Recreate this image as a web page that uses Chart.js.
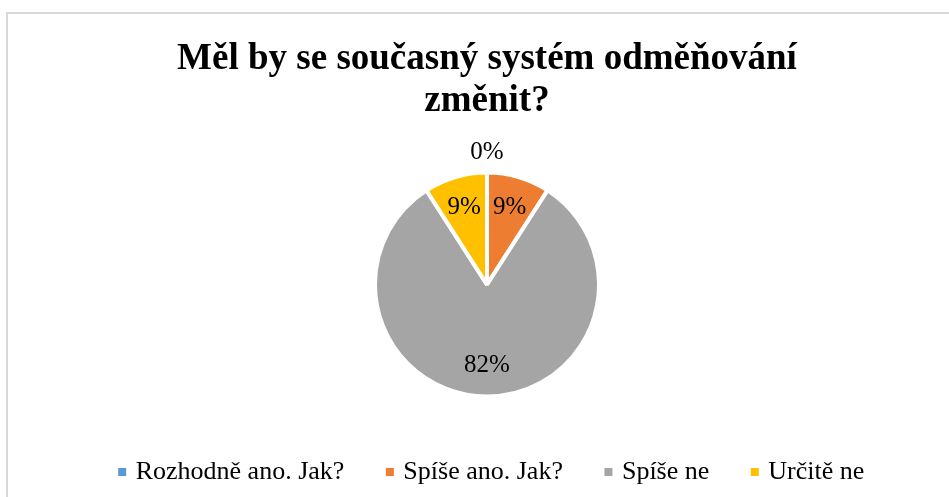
<!DOCTYPE html>
<html>
<head>
<meta charset="utf-8">
<script src="https://cdn.jsdelivr.net/npm/chart.js@4/dist/chart.umd.min.js"></script>
<style>
  html, body { margin: 0; padding: 0; background: #fff; overflow: hidden; }
  #frame { position: absolute; left: 6px; top: 12px; width: 1000px; height: 600px;
           border: 2px solid #d9d9d9; box-sizing: border-box; }
  #wrap { position: absolute; left: 0; top: 0; width: 949px; height: 495px; }
</style>
</head>
<body>
<div id="frame"></div>
<div id="wrap"><canvas id="pie_canvas"></canvas></div>
<script>
// answers to the survey question (respondent counts)
var categories = ['Rozhodně ano. Jak?', 'Spíše ano. Jak?', 'Spíše ne', 'Určitě ne'];
var counts = [0, 1, 9, 1];
var sliceColors = ['#5b9bd5', '#ed7d31', '#a5a5a5', '#ffc000'];
var titleLines = ['Měl by se současný systém odměňování', 'změnit?'];

Chart.defaults.font.family = "'Liberation Serif', 'Times New Roman', serif";
Chart.defaults.color = '#000';

// percentage labels like Excel's data labels
var pieLabels = {
    id: 'pieLabels',
    afterLayout: function(chart) {
        // legend row sits a little right of centre in the original
        chart.legend.left += 6;
        chart.legend.right += 6;
    },
    afterDatasetsDraw: function(chart) {
        var ctx = chart.ctx;
        var data = chart.data.datasets[0].data;
        var total = data.reduce(function(a, b) { return a + b; }, 0);
        var meta = chart.getDatasetMeta(0);
        ctx.save();
        ctx.font = '25px ' + Chart.defaults.font.family;
        ctx.fillStyle = '#000';
        ctx.textAlign = 'center';
        ctx.textBaseline = 'middle';
        meta.data.forEach(function(arc, i) {
            var p = arc.getProps(['x', 'y', 'startAngle', 'endAngle', 'outerRadius'], true);
            var mid = (p.startAngle + p.endAngle) / 2;
            var dist = data[i] === 0 ? p.outerRadius + 20 : p.outerRadius * 0.72;
            var txt = Math.round(data[i] / total * 100) + '%';
            ctx.fillText(txt, p.x + Math.cos(mid) * dist, p.y + Math.sin(mid) * dist);
        });
        ctx.restore();
    }
};

var canvas = document.getElementById('pie_canvas');

var chart = new Chart(canvas, {
    type: 'pie',
    data: {
        labels: categories,
        datasets: [{
            data: counts,
            backgroundColor: sliceColors,
            borderColor: '#fff',
            borderWidth: 4,
            radius: 112
        }]
    },
    options: {
        responsive: true,
        maintainAspectRatio: false,
        animation: false,
        layout: {
            padding: { left: 25, right: 0, top: 0, bottom: 0 }
        },
        plugins: {
            title: {
                display: true,
                text: titleLines,
                color: '#000',
                font: { size: 37, weight: 'bold', lineHeight: 1.15 },
                padding: { top: 38, bottom: 32 }
            },
            legend: {
                position: 'bottom',
                labels: {
                    usePointStyle: true,
                    pointStyle: 'rect',
                    boxWidth: 1,
                    boxHeight: 8,
                    padding: 45,
                    color: '#000',
                    font: { size: 26 },
                    generateLabels: function(chart) {
                        var items = Chart.overrides.pie.plugins.legend.labels.generateLabels(chart);
                        items.forEach(function(it) { it.lineWidth = 0; it.hidden = false; });
                        return items;
                    }
                }
            },
            tooltip: { enabled: false }
        }
    },
    plugins: [pieLabels]
});
</script>
</body>
</html>
